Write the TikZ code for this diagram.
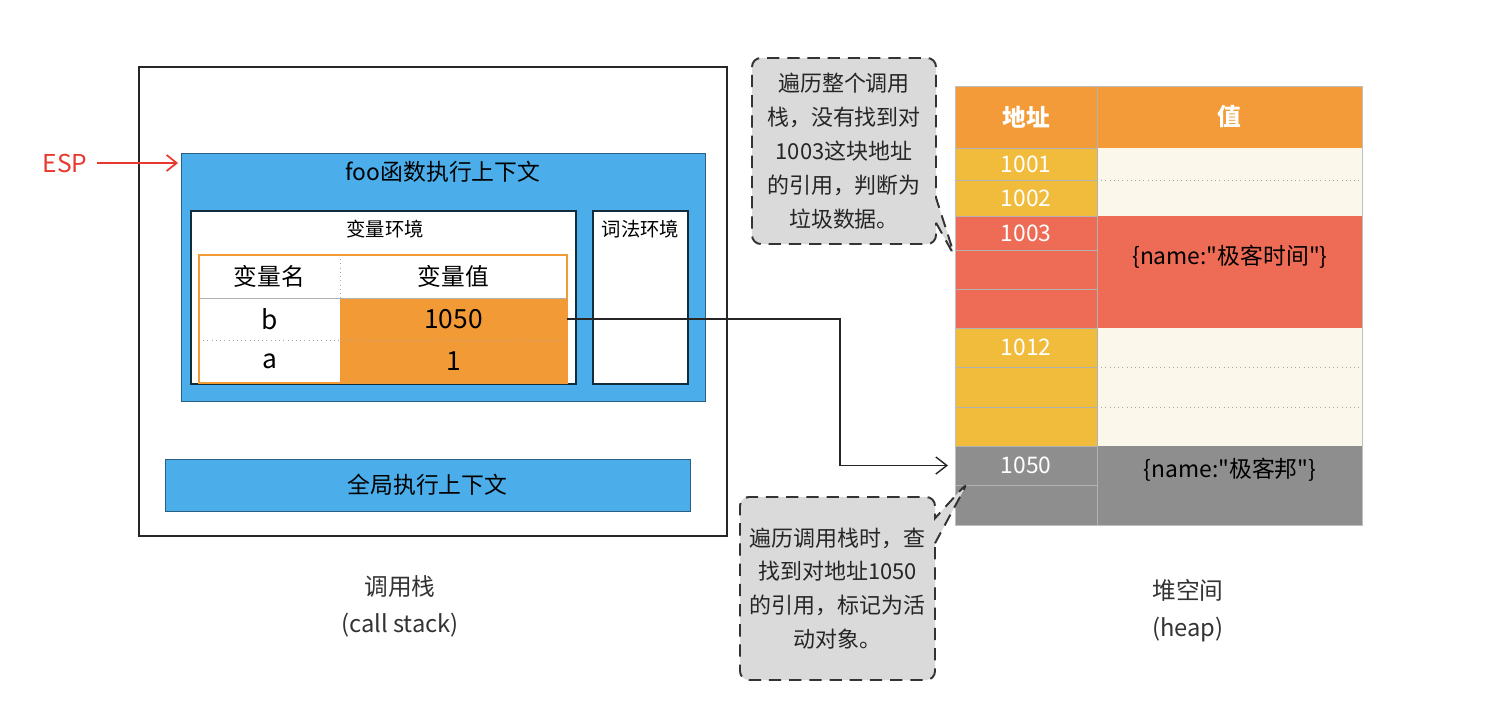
\documentclass[tikz,border=0pt]{standalone}
\usepackage{fontspec}
\setmainfont{Noto Sans CJK SC}
\usetikzlibrary{arrows.meta,positioning,shapes.callouts}
\definecolor{ctxblue}{HTML}{4BAEEA}
\definecolor{valorange}{HTML}{F29A36}
\definecolor{heaphead}{HTML}{F29B38}
\definecolor{heapyel}{HTML}{F1BB3B}
\definecolor{heapred}{HTML}{EE6B56}
\definecolor{heapgray}{HTML}{8E8E8E}
\definecolor{heapcream}{HTML}{FBF7EB}
\definecolor{notegray}{HTML}{DADADA}
\definecolor{espred}{HTML}{E8392E}
\definecolor{labelgray}{HTML}{333333}

\begin{document}
\begin{tikzpicture}[
    x=0.02cm,y=-0.02cm,
    dims/.style 2 args={minimum width=(#1)*0.02cm,minimum height=(#2)*0.02cm},
    frame/.style={inner sep=0pt,outer sep=0pt},
    ctx/.style={frame,fill=ctxblue,draw=ctxblue!55!black,line width=0.5pt},
    env/.style={frame,fill=white,draw=ctxblue!25!black,line width=0.6pt},
    title/.style={font=\fontsize{13}{15}\selectfont},
    small/.style={font=\fontsize{11}{13}\selectfont},
    vhead/.style={frame,font=\fontsize{13.5}{15}\selectfont},
    vcell/.style={frame,font=\fontsize{15}{17}\selectfont},
    addr/.style={frame,draw=black!30,line width=0.4pt,text=white,font=\fontsize{13}{15}\selectfont},
    hhead/.style={frame,fill=heaphead,text=white,font=\fontsize{13.5}{15}\selectfont\bfseries},
    valtxt/.style={font=\fontsize{13}{15}\selectfont},
    note/.style={rectangle callout,frame,fill=notegray,draw=black!80,line width=1.1pt,
      dash pattern=on 7pt off 4.5pt,rounded corners=5pt,align=center,text=black!85,
      font=\fontsize{12.5}{19.3}\selectfont,callout pointer width=0.5cm},
    arr/.style={-{Straight Barb[length=2.2mm,width=3.4mm]},line width=0.8pt,black!85},
    caption/.style={align=center,text=labelgray,font=\fontsize{13.5}{21}\selectfont},
  ]
  \useasboundingbox (0,0) rectangle (1498,700);

  % call stack
  \node[frame,draw=black!85,line width=1.1pt,dims={588}{469}] (stack) at (433,301.5) {};
  \node[ctx,dims={524}{248}] (foo) at (443,277) {};
  \node[title] (footitle) at (443,172) {foo函数执行上下文};
  \node[env,dims={385}{173}] (varenv) at (383.5,297.5) {};
  \node[small] (vartitle) at (385,229) {变量环境};
  \node[env,dims={95}{173}] (lexenv) at (640.5,297.5) {};
  \node[small] (lextitle) at (640.5,229) {词法环境};

  % variable table
  \node[vhead,dims={141}{43}] (hname) at (269.5,276.5) {变量名};
  \node[vhead,dims={227}{43}] (hvalue) at (453.5,276.5) {变量值};
  \node[vcell,dims={141}{42}] (bname) at (269.5,319) {b};
  \node[vcell,dims={227}{42},fill=valorange] (bval) at (453.5,319) {1050};
  \node[vcell,dims={141}{43}] (aname) at (269.5,361.5) {a};
  \node[vcell,dims={227}{43},fill=valorange] (aval) at (453.5,361.5) {1};
  \draw[black!30,line width=0.4pt] (hname.south west) -- (hvalue.south east);
  \draw[black!35,dotted] (hname.north east) -- (hname.south east);
  \draw[black!35,dotted] (bname.south west) -- (bval.south east);
  \draw[valorange,line width=1.5pt] (hname.north west) rectangle (aval.south east);

  \node[ctx,dims={525}{52},title] (global) at (427.5,485) {全局执行上下文};

  \node[text=espred,font=\fontsize{14}{16}\selectfont] (esp) at (65,163) {ESP};
  \draw[espred,line width=1pt,-{Straight Barb[length=2mm,width=3.2mm]},shorten <=2pt,shorten >=1.7pt]
    (esp.east) -- ([yshift=-0.2cm]foo.north west);

  % heap
  \node[hhead,dims={142}{62}] (haddr) at (1026,117) {地址};
  \node[hhead,dims={265}{62}] (hval) at (1229.5,117) {值};
  \foreach \ya/\yb/\txt/\col [count=\i] in {148/180/1001/heapyel,180/216/1002/heapyel,
      216/250/1003/heapred,250/289/{}/heapred,289/328/{}/heapred,
      328/367/1012/heapyel,367/407/{}/heapyel,407/446/{}/heapyel,
      446/485/1050/heapgray,485/525/{}/heapgray}
    \node[addr,fill=\col,dims={142}{\yb-\ya}] (a\i) at (1026,{(\ya+\yb)/2}) {\txt};
  \foreach \ya/\yb/\col [count=\i] in {148/180/heapcream,180/216/heapcream,216/328/heapred,
      328/367/heapcream,367/407/heapcream,407/446/heapcream,446/525/heapgray}
    \node[frame,fill=\col,dims={265}{\yb-\ya}] (v\i) at (1229.5,{(\ya+\yb)/2}) {};
  \foreach \i in {1,4,5}
    \draw[black!35,dotted] (v\i.south west) -- (v\i.south east);
  \node[valtxt] (valtime) at (1230,257) {\{name:\textquotedbl 极客时间\textquotedbl\}};
  \node[valtxt] (valbang) at (1230,470) {\{name:\textquotedbl 极客邦\textquotedbl\}};
  \draw[black!25,line width=0.4pt] (haddr.north west) rectangle (v7.south east);
  \draw[black!30,line width=0.4pt] (haddr.north east) -- (a10.south east);

  % reference from b to the heap
  \coordinate (turn) at (840,323);
  \draw[arr,shorten >=0.14cm] (bval.east) -| (turn |- a9.west) -- (a9.west);

  % notes
  \node[note,dims={184}{186},callout absolute pointer={([yshift=-0.14cm]a3.south west)}] (note1) at (844,151)
    {遍历整个调用\\栈，没有找到对\\1003这块地址\\的引用，判断为\\垃圾数据。};
  \node[note,dims={195}{183},callout absolute pointer={([xshift=0.26cm,yshift=0.06cm]a9.south west)}] (note2) at (837.5,588.5)
    {遍历调用栈时，查\\找到对地址1050\\的引用，标记为活\\动对象。};

  \node[caption] (stackcap) at (400,606) {调用栈\\(call stack)};
  \node[caption] (heapcap) at (1188,611) {堆空间\\(heap)};
\end{tikzpicture}
\end{document}
